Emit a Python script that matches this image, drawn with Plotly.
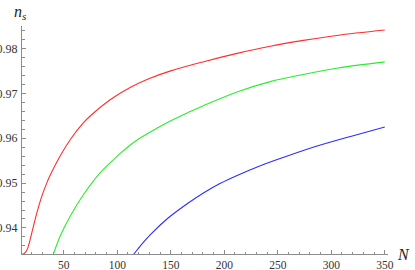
import plotly.graph_objects as go

# Data
red_N  = [10.8, 13, 15.4, 17, 18.5, 21.6, 24.8, 29.4, 34.1, 37.2, 46.5, 57, 68.3, 75, 93, 112, 130, 150,
          180, 212, 243, 274, 305, 350]
red_ns = [0.9341, 0.9343, 0.9350, 0.9360, 0.9373, 0.9403, 0.9433, 0.9470, 0.9500, 0.9517, 0.9560, 0.9600,
          0.9634, 0.9650, 0.9685, 0.9713, 0.9733, 0.9750, 0.9770, 0.9789, 0.9805, 0.9818, 0.9829, 0.9841]

green_N  = [38, 40.3, 46.5, 56, 68, 84, 100, 115, 131, 146, 166, 180, 212, 243, 274, 305, 350]
green_ns = [0.9329, 0.9342, 0.9381, 0.9426, 0.9473, 0.9523, 0.9560, 0.9590, 0.9614, 0.9634, 0.9657,
            0.9672, 0.9703, 0.9726, 0.9742, 0.9756, 0.9770]

blue_N  = [113, 115.5, 121.3, 131, 147, 166, 180.5, 196, 212, 232, 255, 286, 318, 350]
blue_ns = [0.9335, 0.9342, 0.9359, 0.9385, 0.9421, 0.9455, 0.9478, 0.9499, 0.9517, 0.9537, 0.9557,
           0.9582, 0.9604, 0.9625]

x_ticks = [50, 100, 150, 200, 250, 300, 350]
y_ticks = [0.94, 0.95, 0.96, 0.97, 0.98]
y_tick_text = ["0.94", "0.95", "0.96", "0.97", "0.98"]

fig = go.Figure()
for xs, ys, c in [(red_N, red_ns, "rgb(255,45,45)"),
                  (green_N, green_ns, "rgb(45,235,45)"),
                  (blue_N, blue_ns, "rgb(45,45,255)")]:
    fig.add_trace(go.Scatter(x=xs, y=ys, mode="lines",
                             line=dict(color=c, width=1.1, shape="spline", smoothing=1.0),
                             showlegend=False, hoverinfo="skip"))

axis_color = "#8c8c8c"
tick_font_y = dict(family="Liberation Serif", size=12, color="#333333")
tick_font_x = dict(family="Liberation Serif", size=11.5, color="#333333")

fig.update_layout(
    width=415, height=270,
    margin=dict(l=22, r=27, t=26, b=16, autoexpand=False),
    paper_bgcolor="white", plot_bgcolor="white",
    xaxis=dict(range=[11, 353], showgrid=False, zeroline=False, automargin=False,
               showline=True, linecolor=axis_color, linewidth=1,
               tickmode="array", tickvals=x_ticks, ticktext=[str(v) for v in x_ticks],
               ticks="inside", ticklen=4, tickcolor=axis_color, tickwidth=1,
               minor=dict(dtick=10, tick0=0, ticks="inside", ticklen=2.5, tickcolor=axis_color, tickwidth=1),
               tickfont=tick_font_x, ticklabelstandoff=0),
    yaxis=dict(range=[0.9342, 0.985], showgrid=False, zeroline=False, automargin=False,
               showline=True, linecolor=axis_color, linewidth=1,
               tickmode="array", tickvals=y_ticks, ticktext=y_tick_text,
               ticks="inside", ticklen=4, tickcolor=axis_color, tickwidth=1,
               minor=dict(dtick=0.002, tick0=0.93, ticks="inside", ticklen=2.5, tickcolor=axis_color, tickwidth=1),
               tickfont=tick_font_y, ticklabelstandoff=1),
    annotations=[
        dict(text="<i>n</i><sub><i>s</i></sub>", xref="paper", yref="paper", x=-0.003, y=1.06,
             showarrow=False, font=dict(family="Liberation Serif", size=16, color="#222222"),
             xanchor="center", yanchor="middle"),
        dict(text="<i>N</i>", xref="paper", yref="paper", x=1.042, y=0.0,
             showarrow=False, font=dict(family="Liberation Serif", size=16, color="#222222"),
             xanchor="center", yanchor="middle"),
    ],
)

fig.write_html("out.html", config={"displayModeBar": False},
               post_script="document.body.style.margin='0';")
